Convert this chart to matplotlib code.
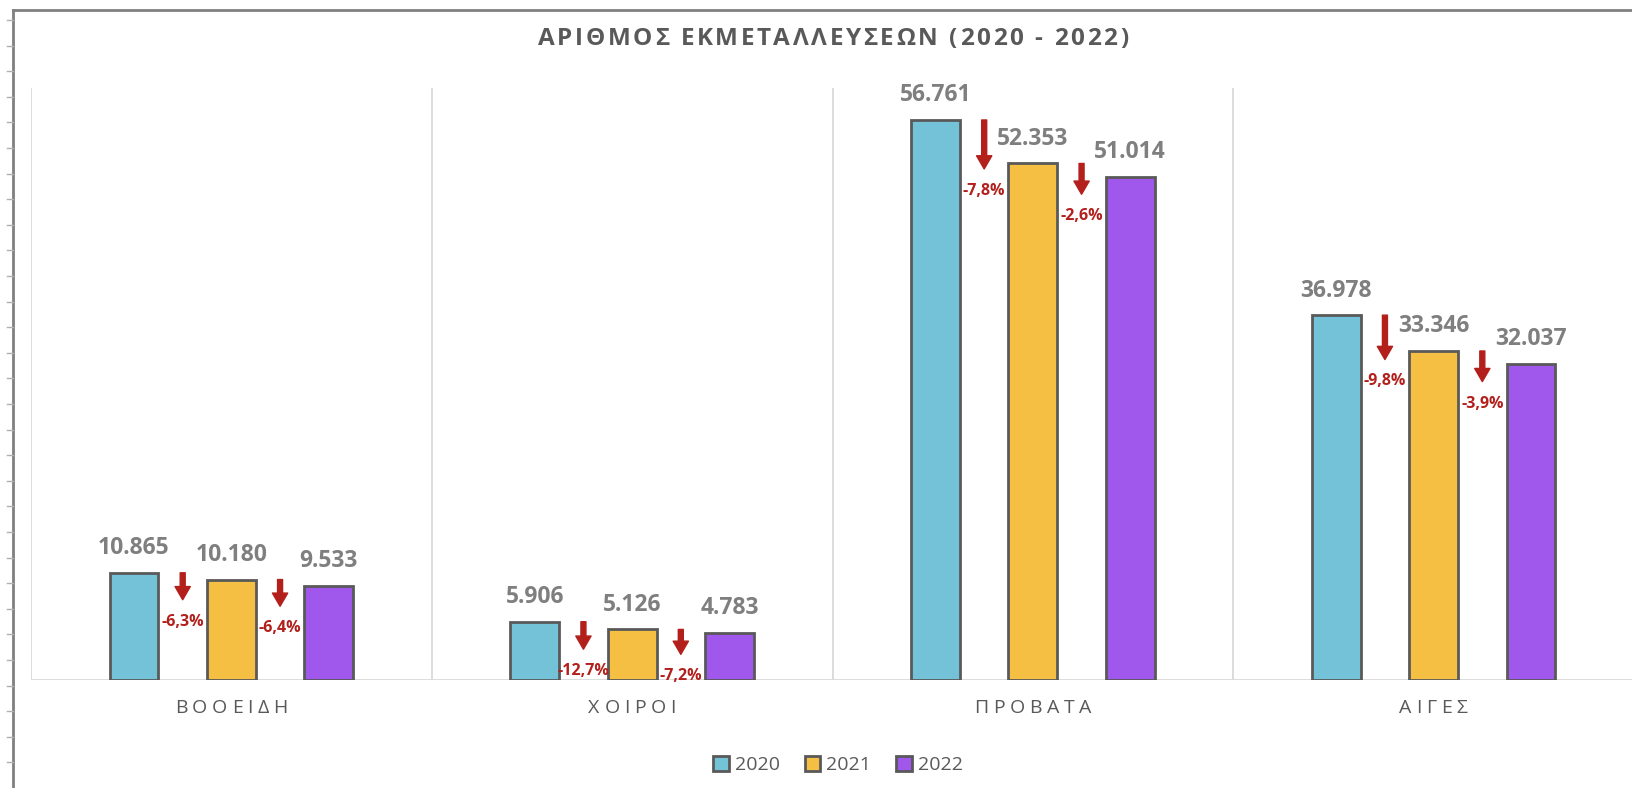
import matplotlib
matplotlib.use('Agg')
import matplotlib.pyplot as plt
from matplotlib.lines import Line2D
from matplotlib.patches import Patch
import numpy as np

# δεδομένα
categories = ['ΒΟΟΕΙΔΗ', 'ΧΟΙΡΟΙ', 'ΠΡΟΒΑΤΑ', 'ΑΙΓΕΣ']
years = ['2020', '2021', '2022']
values = {
    '2020': [10865, 5906, 56761, 36978],
    '2021': [10180, 5126, 52353, 33346],
    '2022': [9533, 4783, 51014, 32037],
}
labels = {
    '2020': ['10.865', '5.906', '56.761', '36.978'],
    '2021': ['10.180', '5.126', '52.353', '33.346'],
    '2022': ['9.533', '4.783', '51.014', '32.037'],
}
change_21 = ['-6,3%', '-12,7%', '-7,8%', '-9,8%']
change_22 = ['-6,4%', '-7,2%', '-2,6%', '-3,9%']
title = 'ΑΡΙΘΜΟΣ ΕΚΜΕΤΑΛΛΕΥΣΕΩΝ (2020 - 2022)'

colors = {'2020': '#74c2d7', '2021': '#f5bf43', '2022': '#a057ec'}
edge = '#595959'
red = '#b3201c'
gray_txt = '#7f7f7f'

plt.rcParams['font.family'] = ['Open Sans', 'DejaVu Sans']

W, H = 1632, 788
fig = plt.figure(figsize=(W / 100, H / 100), dpi=100)
renderer = fig.canvas.get_renderer()


def char_width(ch, **kw):
    # πλάτος χαρακτήρα σε pixels (μέτρηση ανάμεσα σε δύο Η ώστε να μετράει και το κενό)
    t1 = fig.text(0, 0, 'H' + ch + 'H', **kw)
    t2 = fig.text(0, 0, 'HH', **kw)
    w = t1.get_window_extent(renderer).width - t2.get_window_extent(renderer).width
    t1.remove()
    t2.remove()
    return w


def spaced_text(cx, base_y, s, spacing, **kw):
    # κείμενο με αραιά γράμματα, κεντραρισμένο στο cx (pixels)
    ws = [char_width(ch, **kw) for ch in s]
    total = sum(ws) + spacing * (len(s) - 1)
    xp = cx - total / 2
    for ch, w in zip(s, ws):
        if ch != ' ':
            fig.text(xp / W, 1 - base_y / H, ch, ha='left', va='baseline', **kw)
        xp += w + spacing


# περίγραμμα (φύλλο)
fig.add_artist(Line2D([13 / W, 1], [1 - 10 / H] * 2, color='#808080', lw=2))
fig.add_artist(Line2D([13 / W] * 2, [0, 1 - 10 / H], color='#808080', lw=2))
for yy in np.arange(20, H, 25.6):
    fig.add_artist(Line2D([7 / W, 13 / W], [1 - yy / H] * 2, color='#b0b0b0', lw=1))

ymax = 60000
ax_left, ax_w = 31, 1603
ax = fig.add_axes([ax_left / W, 108 / H, ax_w / W, 592 / H])
ax.set_xlim(0, 4)
ax.set_ylim(0, ymax)
ax.axis('off')

# διαχωριστικές γραμμές
ax.vlines(np.arange(5), 0, ymax, color='#d9d9d9', lw=1.3)
ax.hlines(0, 0, 4, color='#d9d9d9', lw=2)

bw = 0.122
step = 0.243
x = np.arange(len(categories)) + 0.5
for j, y in enumerate(years):
    xs = x + (j - 1) * step
    ax.bar(xs, values[y], width=bw, color=colors[y], edgecolor=edge, linewidth=2, zorder=3)
    for xi, v, lab in zip(xs, values[y], labels[y]):
        ax.annotate(lab, (xi, v), xytext=(0, 9), textcoords='offset points',
                    ha='center', va='bottom', fontsize=16.5, fontweight='bold', color=gray_txt)


# βέλη μεταβολής
def arrow(xc, v1, v2, txt):
    length = 2320 + 0.6 * (v1 - v2)
    ax.annotate('', xy=(xc, v1 - length), xytext=(xc, v1),
                arrowprops=dict(arrowstyle='simple,head_length=0.95,head_width=1.1,tail_width=0.36',
                                color=red, shrinkA=0, shrinkB=0, mutation_scale=10), zorder=4)
    ax.annotate(txt, (xc, v1 - length), xytext=(0, -10), textcoords='offset points',
                ha='center', va='top', fontsize=11.5, fontweight='bold', color=red)


for i in range(len(categories)):
    arrow(x[i] - step / 2, values['2020'][i], values['2021'][i], change_21[i])
    arrow(x[i] + step / 2, values['2021'][i], values['2022'][i], change_22[i])

# ετικέτες κατηγοριών
for xi, c in zip(x, categories):
    spaced_text(ax_left + xi / 4 * ax_w, 713, c, 4.6, fontsize=14, color='#595959')

spaced_text(833, 45, title, 2.6, fontsize=17.5, fontweight='bold', color='#595959')

handles = [Patch(facecolor=colors[y], edgecolor=edge, linewidth=2) for y in years]
fig.legend(handles, years, loc='center', bbox_to_anchor=(838 / W, 1 - 765 / H), ncol=3,
           frameon=False, fontsize=14, handlelength=0.8, handleheight=0.8,
           handletextpad=0.3, columnspacing=1.3, labelcolor='#595959')

fig.savefig('out.png', dpi=100)
